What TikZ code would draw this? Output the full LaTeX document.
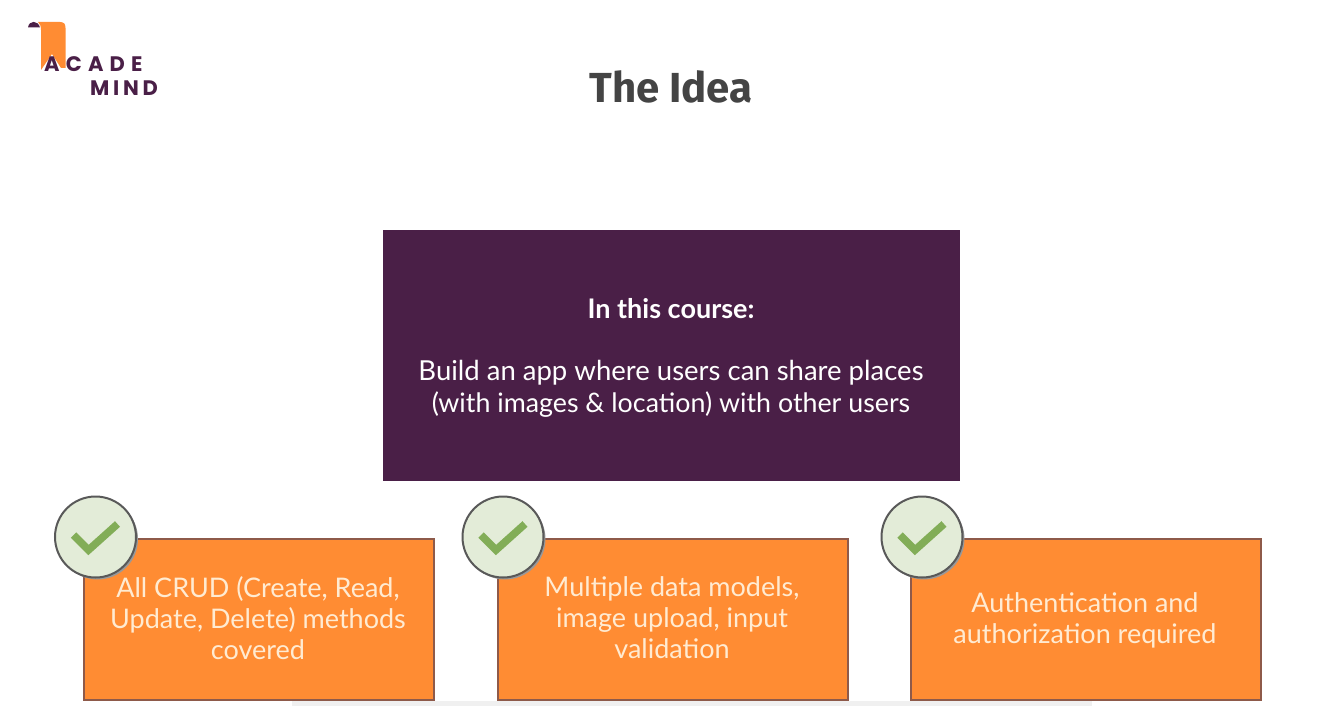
\documentclass[tikz,border=0pt]{standalone}
\usepackage{fontspec}
\setmainfont{Lato}
\newfontfamily\titlefont{Fira Sans}
\newfontfamily\logofont{Poppins}
\definecolor{plum}{HTML}{4A1F47}
\definecolor{orangebox}{HTML}{FF8C33}
\definecolor{orangeedge}{HTML}{8E5A4A}
\definecolor{cream}{HTML}{FFEBD2}
\definecolor{checkfill}{HTML}{E3ECD8}
\definecolor{checkgreen}{HTML}{82AD57}
\definecolor{titlegray}{HTML}{444444}
\tikzset{
  x=1pt,y=-1pt,
  featurebox/.style={draw=orangeedge,line width=2pt,fill=orangebox,minimum width=350pt,minimum height=161pt,inner sep=0pt,anchor=north west},
  featuretext/.style={text=cream,font=\fontsize{27}{31}\selectfont,align=center,inner sep=0pt},
  checkdisc/.style={circle,draw=black!65,line width=2pt,fill=checkfill,minimum size=81pt,inner sep=0pt},
  checkshadow/.style={circle,fill=black!40,minimum size=81pt,inner sep=0pt},
  tick/.style={draw=checkgreen,line width=7.5pt,line join=miter},
  logotext/.style={text=plum,font=\logofont\fontsize{21}{21}\selectfont\bfseries,inner sep=0pt}
}
\begin{document}
\begin{tikzpicture}
\useasboundingbox (0,0) rectangle (1331,706);
\fill[white] (0,0) rectangle (1331,706);
\fill[black!6] (292,701) rectangle (1092,706);
% logo
\fill[orangebox] (38,22) -- (60,22) .. controls (64,22) and (65.5,24) .. (65.5,28) -- (65.5,68) -- (61,68) -- (52,54) -- (41,70) -- (41,30) .. controls (41,26) and (40,24) .. (38,22) -- cycle;
\fill[plum] (28,27.5) .. controls (29,20) and (38,20) .. (40,27.5) -- cycle;
\node[logotext,anchor=base west] (acade) at (44,72) {A\hspace{6.2pt}C\hspace{6.2pt}A\hspace{6.2pt}D\hspace{6.2pt}E};
\node[logotext,anchor=base east] (mind) at (158,96) {M\hspace{3.7pt}I\hspace{3.7pt}N\hspace{3.7pt}D};
% title
\node[text=titlegray,font=\titlefont\fontsize{42}{42}\selectfont\bfseries,inner sep=0pt,anchor=base] (title) at (671,103) {The Idea};
% main box
\node[fill=plum,minimum width=577.5pt,minimum height=251pt,inner sep=0pt,anchor=north west] (main) at (382.5,230) {};
\node[text=white,font=\fontsize{27}{27}\selectfont\bfseries,inner sep=0pt,anchor=base] (mainhead) at (671,318) {In this course:};
\node[text=white,font=\fontsize{27.5}{32}\selectfont,inner sep=0pt,anchor=base] (mainlinea) at (671,380) {Build an app where users can share places};
\node[text=white,font=\fontsize{26.8}{32}\selectfont,inner sep=0pt,anchor=base] (mainlineb) at (671,412) {(with images \& location) with other users};
% feature boxes
\node[featurebox] (boxa) at (82.5,537.5) {};
\node[featurebox] (boxb) at (496.5,537.5) {};
\node[featurebox] (boxc) at (909.5,537.5) {};
\node[featuretext] (texta) at (258,618) {All CRUD (Create, Read,\\Update, Delete) methods\\covered};
\node[featuretext] (textb) at (672,618) {Multiple data models,\\image upload, input\\validation};
\node[featuretext] (textc) at (1085,620) {Authentication and\\authorization required};
% checks
\foreach \n/\cx in {a/95.5,b/503,c/922}{
  \node[checkshadow] (shadow\n) at (\cx+2,539) {};
  \node[checkdisc] (check\n) at (\cx,537) {};
  \draw[tick] (\cx-22,535) -- (\cx-7,550) -- (\cx+22,524);
}
\end{tikzpicture}
\end{document}
